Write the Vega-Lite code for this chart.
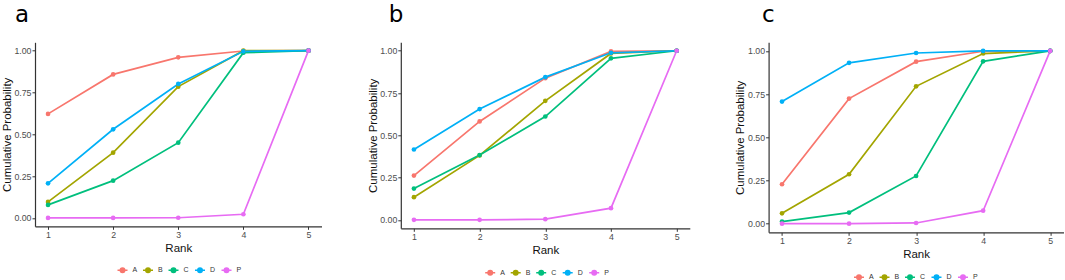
{
  "$schema": "https://vega.github.io/schema/vega-lite/v6.json",
  "padding": {"left": 1, "top": 3.3, "right": 0, "bottom": 0},
  "background": "white",
  "spacing": 78.8,
  "bounds": "flush",
  "config": {
    "view": {"stroke": null},
    "font": "Liberation Sans",
    "axis": {
      "grid": false,
      "domainColor": "#333333",
      "domainWidth": 1.2,
      "tickColor": "#333333",
      "tickSize": 3,
      "tickWidth": 1,
      "labelColor": "#4d4d4d",
      "labelFontSize": 8.8,
      "labelFont": "Liberation Sans",
      "titleFont": "Liberation Sans",
      "titleFontSize": 11.5,
      "titleFontWeight": "normal",
      "titleColor": "#111111"
    },
    "axisX": {"labelPadding": 1.5, "titlePadding": 2.5},
    "axisY": {"labelPadding": 1, "titlePadding": 1.5},
    "legend": {
      "orient": "none",
      "direction": "horizontal",
      "padding": 0,
      "labelFontSize": 7,
      "labelColor": "#333333",
      "labelFont": "Liberation Sans",
      "symbolSize": 100,
      "symbolStrokeWidth": 1.5,
      "labelOffset": 4,
      "columnPadding": 2.5,
      "symbolType": "M-1,0L1,0M-0.45,0A0.45,0.45,0,1,1,0.45,0A0.45,0.45,0,1,1,-0.45,0"
    },
    "title": {
      "anchor": "start",
      "frame": "group",
      "font": "DejaVu Sans",
      "fontSize": 23,
      "fontWeight": "normal",
      "color": "#000000",
      "baseline": "alphabetic"
    }
  },
  "data": {
    "values": [
      {"panel": "a", "trt": "A", "rank": 1, "p": 0.622},
      {"panel": "a", "trt": "A", "rank": 2, "p": 0.858},
      {"panel": "a", "trt": "A", "rank": 3, "p": 0.96},
      {"panel": "a", "trt": "A", "rank": 4, "p": 0.998},
      {"panel": "a", "trt": "A", "rank": 5, "p": 1},
      {"panel": "a", "trt": "B", "rank": 1, "p": 0.096},
      {"panel": "a", "trt": "B", "rank": 2, "p": 0.39},
      {"panel": "a", "trt": "B", "rank": 3, "p": 0.785},
      {"panel": "a", "trt": "B", "rank": 4, "p": 1},
      {"panel": "a", "trt": "B", "rank": 5, "p": 1},
      {"panel": "a", "trt": "C", "rank": 1, "p": 0.078},
      {"panel": "a", "trt": "C", "rank": 2, "p": 0.223},
      {"panel": "a", "trt": "C", "rank": 3, "p": 0.45},
      {"panel": "a", "trt": "C", "rank": 4, "p": 0.988},
      {"panel": "a", "trt": "C", "rank": 5, "p": 1},
      {"panel": "a", "trt": "D", "rank": 1, "p": 0.207},
      {"panel": "a", "trt": "D", "rank": 2, "p": 0.53},
      {"panel": "a", "trt": "D", "rank": 3, "p": 0.801},
      {"panel": "a", "trt": "D", "rank": 4, "p": 0.996},
      {"panel": "a", "trt": "D", "rank": 5, "p": 1},
      {"panel": "a", "trt": "P", "rank": 1, "p": 0.0},
      {"panel": "a", "trt": "P", "rank": 2, "p": 0.0},
      {"panel": "a", "trt": "P", "rank": 3, "p": 0.001},
      {"panel": "a", "trt": "P", "rank": 4, "p": 0.022},
      {"panel": "a", "trt": "P", "rank": 5, "p": 1},
      {"panel": "b", "trt": "A", "rank": 1, "p": 0.262},
      {"panel": "b", "trt": "A", "rank": 2, "p": 0.582},
      {"panel": "b", "trt": "A", "rank": 3, "p": 0.838},
      {"panel": "b", "trt": "A", "rank": 4, "p": 0.996},
      {"panel": "b", "trt": "A", "rank": 5, "p": 1},
      {"panel": "b", "trt": "B", "rank": 1, "p": 0.134},
      {"panel": "b", "trt": "B", "rank": 2, "p": 0.381},
      {"panel": "b", "trt": "B", "rank": 3, "p": 0.704},
      {"panel": "b", "trt": "B", "rank": 4, "p": 0.984},
      {"panel": "b", "trt": "B", "rank": 5, "p": 1},
      {"panel": "b", "trt": "C", "rank": 1, "p": 0.185},
      {"panel": "b", "trt": "C", "rank": 2, "p": 0.383},
      {"panel": "b", "trt": "C", "rank": 3, "p": 0.611},
      {"panel": "b", "trt": "C", "rank": 4, "p": 0.955},
      {"panel": "b", "trt": "C", "rank": 5, "p": 1},
      {"panel": "b", "trt": "D", "rank": 1, "p": 0.416},
      {"panel": "b", "trt": "D", "rank": 2, "p": 0.655},
      {"panel": "b", "trt": "D", "rank": 3, "p": 0.844},
      {"panel": "b", "trt": "D", "rank": 4, "p": 0.988},
      {"panel": "b", "trt": "D", "rank": 5, "p": 1},
      {"panel": "b", "trt": "P", "rank": 1, "p": 0.0},
      {"panel": "b", "trt": "P", "rank": 2, "p": 0.0},
      {"panel": "b", "trt": "P", "rank": 3, "p": 0.004},
      {"panel": "b", "trt": "P", "rank": 4, "p": 0.069},
      {"panel": "b", "trt": "P", "rank": 5, "p": 1},
      {"panel": "c", "trt": "A", "rank": 1, "p": 0.228},
      {"panel": "c", "trt": "A", "rank": 2, "p": 0.724},
      {"panel": "c", "trt": "A", "rank": 3, "p": 0.938},
      {"panel": "c", "trt": "A", "rank": 4, "p": 0.998},
      {"panel": "c", "trt": "A", "rank": 5, "p": 1},
      {"panel": "c", "trt": "B", "rank": 1, "p": 0.06},
      {"panel": "c", "trt": "B", "rank": 2, "p": 0.286},
      {"panel": "c", "trt": "B", "rank": 3, "p": 0.795},
      {"panel": "c", "trt": "B", "rank": 4, "p": 0.985},
      {"panel": "c", "trt": "B", "rank": 5, "p": 1},
      {"panel": "c", "trt": "C", "rank": 1, "p": 0.012},
      {"panel": "c", "trt": "C", "rank": 2, "p": 0.064},
      {"panel": "c", "trt": "C", "rank": 3, "p": 0.276},
      {"panel": "c", "trt": "C", "rank": 4, "p": 0.94},
      {"panel": "c", "trt": "C", "rank": 5, "p": 1},
      {"panel": "c", "trt": "D", "rank": 1, "p": 0.707},
      {"panel": "c", "trt": "D", "rank": 2, "p": 0.931},
      {"panel": "c", "trt": "D", "rank": 3, "p": 0.988},
      {"panel": "c", "trt": "D", "rank": 4, "p": 1},
      {"panel": "c", "trt": "D", "rank": 5, "p": 1},
      {"panel": "c", "trt": "P", "rank": 1, "p": 0.0},
      {"panel": "c", "trt": "P", "rank": 2, "p": 0.0},
      {"panel": "c", "trt": "P", "rank": 3, "p": 0.004},
      {"panel": "c", "trt": "P", "rank": 4, "p": 0.075},
      {"panel": "c", "trt": "P", "rank": 5, "p": 1}
    ]
  },
  "resolve": {
    "scale": {"stroke": "independent", "fill": "independent", "x": "independent", "y": "independent"},
    "legend": {"stroke": "independent", "fill": "independent"}
  },
  "hconcat": [
    {
      "width": 286.5,
      "height": 184,
      "title": {"text": "a", "dx": -19.9, "offset": 15.4},
      "transform": [{"filter": "datum.panel == 'a'"}],
      "encoding": {
        "x": {"field": "rank", "type": "quantitative", "title": "Rank", "scale": {"domain": [0.8, 5.2], "nice": false, "zero": false}, "axis": {"values": [1, 2, 3, 4, 5], "format": "d"}},
        "y": {"field": "p", "type": "quantitative", "title": "Cumulative Probability", "scale": {"domain": [-0.05, 1.05], "nice": false, "zero": false}, "axis": {"values": [0, 0.25, 0.5, 0.75, 1], "format": ".2f"}}
      },
      "layer": [
        {
          "mark": {"type": "line", "strokeWidth": 1.7},
          "encoding": {
            "stroke": {"field": "trt", "type": "nominal", "scale": {"domain": ["A", "B", "C", "D", "P"], "range": ["#F8766D", "#A3A500", "#00BF7D", "#00B0F6", "#E76BF3"]}, "legend": {"title": null, "legendX": 81.5, "legendY": 221.5}}
          }
        },
        {
          "mark": {"type": "point", "filled": true, "size": 22, "opacity": 1},
          "encoding": {
            "fill": {"field": "trt", "type": "nominal", "scale": {"domain": ["A", "B", "C", "D", "P"], "range": ["#F8766D", "#A3A500", "#00BF7D", "#00B0F6", "#E76BF3"]}, "legend": {"title": null, "legendX": 81.5, "legendY": 221.5}}
          }
        }
      ]
    },
    {
      "width": 289,
      "height": 186,
      "title": {"text": "b", "dx": -12, "offset": 15},
      "transform": [{"filter": "datum.panel == 'b'"}],
      "encoding": {
        "x": {"field": "rank", "type": "quantitative", "title": "Rank", "scale": {"domain": [0.8, 5.2], "nice": false, "zero": false}, "axis": {"values": [1, 2, 3, 4, 5], "format": "d"}},
        "y": {"field": "p", "type": "quantitative", "title": "Cumulative Probability", "scale": {"domain": [-0.05, 1.05], "nice": false, "zero": false}, "axis": {"values": [0, 0.25, 0.5, 0.75, 1], "format": ".2f"}}
      },
      "layer": [
        {
          "mark": {"type": "line", "strokeWidth": 1.7},
          "encoding": {
            "stroke": {"field": "trt", "type": "nominal", "scale": {"domain": ["A", "B", "C", "D", "P"], "range": ["#F8766D", "#A3A500", "#00BF7D", "#00B0F6", "#E76BF3"]}, "legend": {"title": null, "legendX": 83.4, "legendY": 224}}
          }
        },
        {
          "mark": {"type": "point", "filled": true, "size": 22, "opacity": 1},
          "encoding": {
            "fill": {"field": "trt", "type": "nominal", "scale": {"domain": ["A", "B", "C", "D", "P"], "range": ["#F8766D", "#A3A500", "#00BF7D", "#00B0F6", "#E76BF3"]}, "legend": {"title": null, "legendX": 83.4, "legendY": 224}}
          }
        }
      ]
    },
    {
      "width": 295,
      "height": 190,
      "title": {"text": "c", "dx": -6.6, "offset": 15.4},
      "transform": [{"filter": "datum.panel == 'c'"}],
      "encoding": {
        "x": {"field": "rank", "type": "quantitative", "title": "Rank", "scale": {"domain": [0.8, 5.2], "nice": false, "zero": false}, "axis": {"values": [1, 2, 3, 4, 5], "format": "d"}},
        "y": {"field": "p", "type": "quantitative", "title": "Cumulative Probability", "scale": {"domain": [-0.05, 1.05], "nice": false, "zero": false}, "axis": {"values": [0, 0.25, 0.5, 0.75, 1], "format": ".2f"}}
      },
      "layer": [
        {
          "mark": {"type": "line", "strokeWidth": 1.7},
          "encoding": {
            "stroke": {"field": "trt", "type": "nominal", "scale": {"domain": ["A", "B", "C", "D", "P"], "range": ["#F8766D", "#A3A500", "#00BF7D", "#00B0F6", "#E76BF3"]}, "legend": {"title": null, "legendX": 84.4, "legendY": 228.5}}
          }
        },
        {
          "mark": {"type": "point", "filled": true, "size": 22, "opacity": 1},
          "encoding": {
            "fill": {"field": "trt", "type": "nominal", "scale": {"domain": ["A", "B", "C", "D", "P"], "range": ["#F8766D", "#A3A500", "#00BF7D", "#00B0F6", "#E76BF3"]}, "legend": {"title": null, "legendX": 84.4, "legendY": 228.5}}
          }
        }
      ]
    }
  ]
}
